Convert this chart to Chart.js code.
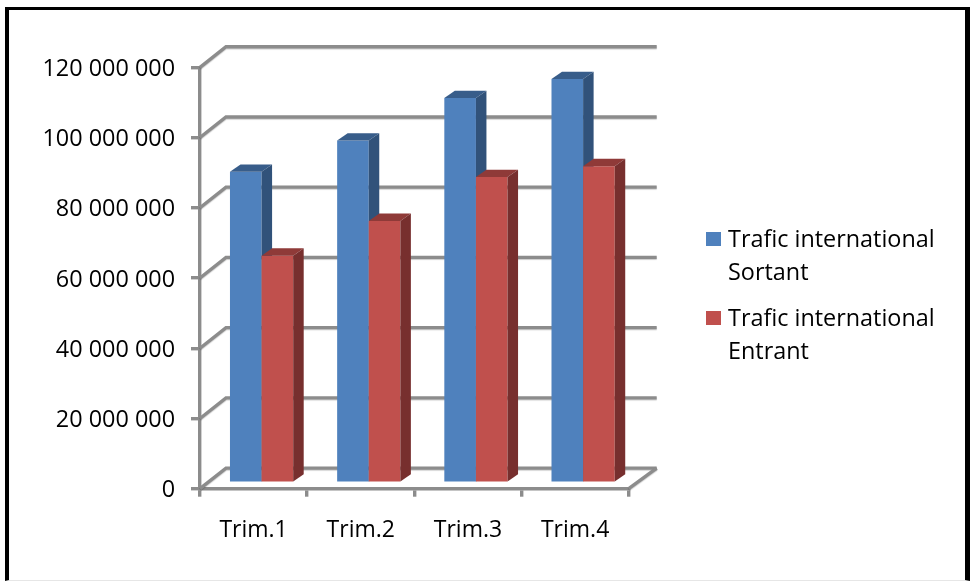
<!DOCTYPE html>
<html>
<head>
<meta charset="utf-8">
<script src="https://cdn.jsdelivr.net/npm/chart.js@4/dist/chart.umd.min.js"></script>
<style>
  html,body{margin:0;padding:0;background:#fff;overflow:hidden;}
  #wrap{position:absolute;left:0;top:0;width:970px;height:581px;}
  #frame{position:absolute;left:5px;top:7px;right:0;bottom:0;border-left:4px solid #000;border-top:3px solid #000;border-right:5px solid #000;border-bottom:1px solid #e6e6e6;}
  canvas{position:absolute;left:0;top:0;}
</style>
</head>
<body>
<div id="wrap">
  <canvas id="bar" width="970" height="581"></canvas>
  <div id="frame"></div>
</div>
<script>
var categories=["Trim.1","Trim.2","Trim.3","Trim.4"];
var sortant=[88700000,97600000,109700000,115100000];
var entrant=[64800000,74700000,87200000,90300000];
var sortantLabel=["Trafic international","Sortant"];
var entrantLabel=["Trafic international","Entrant"];

var gris="#8c8c8c";
var police="'Open Sans'";

// fake 3D: back wall, bar sides, legend are painted on top of the chart scales
var troisD={
  id:"troisD",
  beforeDatasetsDraw:function(chart){
    var ctx=chart.ctx,a=chart.chartArea,dx=26,dy=20.6;
    ctx.save();
    ctx.strokeStyle=gris;
    ctx.lineWidth=3.4;
    ctx.shadowColor="rgba(0,0,0,0.2)";
    ctx.shadowOffsetY=1;
    ctx.shadowBlur=1;
    chart.scales.y.ticks.forEach(function(t,i){
      var y=chart.scales.y.getPixelForTick(i);
      ctx.beginPath();
      ctx.moveTo(a.left,y);
      ctx.lineTo(a.left+dx,y-dy);
      ctx.lineTo(a.right+dx+2,y-dy);
      ctx.stroke();
    });
    ctx.beginPath();
    ctx.moveTo(a.right,a.bottom);
    ctx.lineTo(a.right+dx+2,a.bottom-dy);
    ctx.stroke();
    ctx.restore();
  },
  beforeDatasetDraw:function(){
    return false;
  },
  afterDatasetsDraw:function(chart){
    var ctx=chart.ctx;
    var faces=[["#385d8a","#31527a"],["#8f3a38","#772f2e"]];
    var px=10.5,py=7.4;
    ctx.save();
    ctx.translate(8,-5.4);
    [0,1].forEach(function(d){
      chart.getDatasetMeta(d).data.forEach(function(el){
        var p=el.getProps(["x","y","base","width"],true);
        var l=p.x-p.width/2,r=p.x+p.width/2;
        el.draw(ctx);
        ctx.fillStyle=faces[d][0];
        ctx.beginPath();
        ctx.moveTo(l,p.y);
        ctx.lineTo(l+px,p.y-py);
        ctx.lineTo(r+px,p.y-py);
        ctx.lineTo(r,p.y);
        ctx.fill();
        ctx.fillStyle=faces[d][1];
        ctx.beginPath();
        ctx.moveTo(r,p.y);
        ctx.lineTo(r+px,p.y-py);
        ctx.lineTo(r+px,p.base-py);
        ctx.lineTo(r,p.base);
        ctx.fill();
      });
    });
    ctx.restore();
  },
  afterDraw:function(chart){
    var ctx=chart.ctx;
    ctx.save();
    ctx.font="23.4px "+police;
    ctx.textBaseline="middle";
    ctx.textAlign="left";
    var tops=[239,318];
    chart.data.datasets.forEach(function(ds,i){
      ctx.fillStyle=ds.backgroundColor;
      ctx.fillRect(706,tops[i]-7,15,14);
      ctx.fillStyle="#000";
      ds.lignes.forEach(function(txt,j){
        ctx.fillText(txt,728,tops[i]+1.5+j*32.5);
      });
    });
    ctx.restore();
  }
};

var ctx=document.getElementById("bar");
var chart=new Chart(ctx,{
  type:"bar",
  data:{
    labels:categories,
    datasets:[
      {label:"Trafic international Sortant",lignes:sortantLabel,data:sortant,backgroundColor:"#4f81bd",categoryPercentage:0.59,barPercentage:1},
      {label:"Trafic international Entrant",lignes:entrantLabel,data:entrant,backgroundColor:"#c0504d",categoryPercentage:0.59,barPercentage:1}
    ]
  },
  options:{
    responsive:false,
    animation:false,
    layout:{padding:{left:0,top:67.3,right:341.3,bottom:0}},
    plugins:{legend:{display:false},title:{display:false},tooltip:{enabled:false}},
    scales:{
      x:{
        afterFit:function(s){s.height=581-488.7;},
        grid:{drawOnChartArea:false,color:gris,lineWidth:3.4,tickLength:8},
        border:{color:gris,width:3.4},
        ticks:{color:"#000",font:{family:police,size:23},padding:20,maxRotation:0}
      },
      y:{
        min:0,
        max:120000000,
        afterFit:function(s){s.width=200;},
        grid:{drawOnChartArea:false,color:gris,lineWidth:3.4,tickLength:9},
        border:{color:gris,width:3.4},
        ticks:{
          stepSize:20000000,
          color:"#000",
          font:{family:police,size:23.4},
          padding:16,
          labelOffset:2,
          callback:function(v){return String(v).replace(/\B(?=(\d{3})+$)/g," ");}
        }
      }
    }
  },
  plugins:[troisD]
});
</script>
</body>
</html>
